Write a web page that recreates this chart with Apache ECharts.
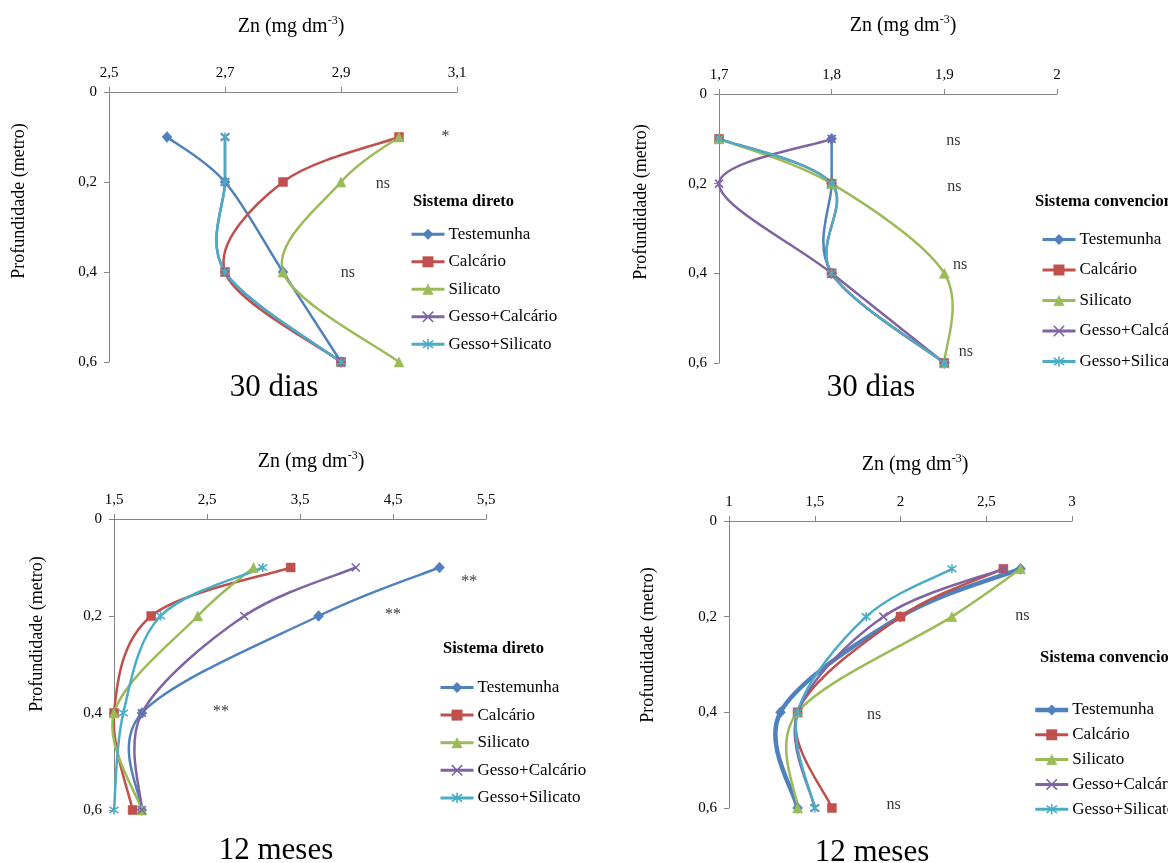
<!DOCTYPE html>
<html><head><meta charset="utf-8">
<script src="https://cdn.jsdelivr.net/npm/echarts@6/dist/echarts.min.js"></script>
<style>html,body{margin:0;padding:0;background:#fff}#c{width:1168px;height:863px}</style>
</head><body><div id="c"></div><script>
// ---------- DATA ----------
const depths = [0.1, 0.2, 0.4, 0.6];
const treatments = ['Testemunha', 'Calcário', 'Silicato', 'Gesso+Calcário', 'Gesso+Silicato'];

// 30 dias – Sistema direto
const a30Testemunha     = [2.6, 2.7, 2.8, 2.9];
const a30Calcario       = [3.0, 2.8, 2.7, 2.9];
const a30Silicato       = [3.0, 2.9, 2.8, 3.0];
const a30GessoCalcario  = [2.7, 2.7, 2.7, 2.9];
const a30GessoSilicato  = [2.7, 2.7, 2.7, 2.9];
// 30 dias – Sistema convencional
const b30Testemunha     = [1.8, 1.8, 1.8, 1.9];
const b30Calcario       = [1.7, 1.8, 1.8, 1.9];
const b30Silicato       = [1.7, 1.8, 1.9, 1.9];
const b30GessoCalcario  = [1.8, 1.7, 1.8, 1.9];
const b30GessoSilicato  = [1.7, 1.8, 1.8, 1.9];
// 12 meses – Sistema direto
const c12Testemunha     = [5.0, 3.7, 1.8, 1.8];
const c12Calcario       = [3.4, 1.9, 1.5, 1.7];
const c12Silicato       = [3.0, 2.4, 1.5, 1.8];
const c12GessoCalcario  = [4.1, 2.9, 1.8, 1.8];
const c12GessoSilicato  = [3.1, 2.0, 1.6, 1.5];
// 12 meses – Sistema convencional
const d12Testemunha     = [2.7, 2.0, 1.3, 1.4];
const d12Calcario       = [2.6, 2.0, 1.4, 1.6];
const d12Silicato       = [2.7, 2.3, 1.4, 1.4];
const d12GessoCalcario  = [2.6, 1.9, 1.4, 1.5];
const d12GessoSilicato  = [2.3, 1.8, 1.4, 1.5];

// x-axis ranges (min, max, interval)
const xMinA = 2.5, xMaxA = 3.1, xStepA = 0.2;
const xMinB = 1.7, xMaxB = 2.0, xStepB = 0.1;
const xMinC = 1.5, xMaxC = 5.5, xStepC = 1.0;
const xMinD = 1.0, xMaxD = 3.0, xStepD = 0.5;
const depthMin = 0, depthMax = 0.6, depthStep = 0.2;

// significance notes: text, Zn value, depth
const notesAText = ['*', 'ns', 'ns', 'ns'];
const notesAX = [3.08, 2.972, 2.912, 3.036];
const notesAY = [0.099, 0.203, 0.401, 0.601];
const notesBText = ['ns', 'ns', 'ns', 'ns'];
const notesBX = [1.908, 1.909, 1.914, 1.919];
const notesBY = [0.105, 0.207, 0.381, 0.575];
const notesCText = ['**', '**', '**', 'ns'];
const notesCX = [5.32, 4.5, 2.65, 2.625];
const notesCY = [0.13, 0.197, 0.397, 0.602];
const notesDText = ['ns', 'ns', 'ns', 'ns'];
const notesDX = [3.08, 2.71, 1.846, 1.96];
const notesDY = [0.101, 0.198, 0.405, 0.594];

const captions = ['30 dias', '30 dias', '12 meses', '12 meses'];
const legendTitles = ['Sistema direto', 'Sistema convencional', 'Sistema direto', 'Sistema convencional'];
const xTitle = 'Zn (mg dm';
const xTitleSup = '-3';
const yTitle = 'Profundidade (metro)';

// ---------- STYLE / LAYOUT ----------
const FONT = "'Liberation Serif','Times New Roman',serif";
const colors = ['#4F81BD', '#C0504D', '#9BBB59', '#8064A2', '#4BACC6'];
const crossPath = 'path://M0,0L10,10M10,0L0,10';
const starPath = 'path://M5,0L5,10M0,1.5L10,8.5M10,1.5L0,8.5';
const symbols = ['diamond', 'rect', 'triangle', crossPath, starPath];
const symbolSizes = [[10, 11], 9, 10, 8, 9];

const panels = [
  { grid: { left: 109, top: 92, width: 348, height: 270 }, xr: [xMinA, xMaxA, xStepA],
    data: [a30Testemunha, a30Calcario, a30Silicato, a30GessoCalcario, a30GessoSilicato],
    notes: [notesAText, notesAX, notesAY], legend: { left: 410, top: 225.8, gap: 10.5 },
    legendTitle: [413, 202], xName: [291, 26], yName: [19, 201], caption: [274, 388], thick: false },
  { grid: { left: 719, top: 94, width: 338, height: 269 }, xr: [xMinB, xMaxB, xStepB],
    data: [b30Testemunha, b30Calcario, b30Silicato, b30GessoCalcario, b30GessoSilicato],
    notes: [notesBText, notesBX, notesBY], legend: { left: 1041, top: 231, gap: 13.5 },
    legendTitle: [1035, 202], xName: [903, 25], yName: [641, 202], caption: [871, 388], thick: false },
  { grid: { left: 114, top: 519, width: 372, height: 291 }, xr: [xMinC, xMaxC, xStepC],
    data: [c12Testemunha, c12Calcario, c12Silicato, c12GessoCalcario, c12GessoSilicato],
    notes: [notesCText, notesCX, notesCY], legend: { left: 439, top: 679, gap: 10.6 },
    legendTitle: [443, 649], xName: [311, 461], yName: [37, 634], caption: [276, 851], thick: false },
  { grid: { left: 729, top: 521, width: 343, height: 287 }, xr: [xMinD, xMaxD, xStepD],
    data: [d12Testemunha, d12Calcario, d12Silicato, d12GessoCalcario, d12GessoSilicato],
    notes: [notesDText, notesDX, notesDY], legend: { left: 1033, top: 701.5, gap: 7.8 },
    legendTitle: [1040, 658], xName: [915, 464], yName: [648, 645], caption: [872, 853], thick: true }
];

function fmt(v) {
  return String(Number(v.toFixed(2))).replace('.', ',');
}

// Excel-style smoothed curve (Catmull-Rom / Bezier) through the data points,
// positioned with the axes' own scales via api.coord.
function curveSeries(k, xs, color, width) {
  return {
    type: 'custom', xAxisIndex: k, yAxisIndex: k, silent: true, animation: false, clip: false,
    data: depths.map((d, j) => [xs[j], d]), encode: { x: 0, y: 1 },
    renderItem: (params, api) => {
      if (params.dataIndex !== 0) return null;
      const pts = depths.map((d, j) => api.coord([xs[j], d]));
      const n = pts.length, children = [];
      for (let i = 0; i < n - 1; i++) {
        const p0 = pts[Math.max(i - 1, 0)], p1 = pts[i], p2 = pts[i + 1], p3 = pts[Math.min(i + 2, n - 1)];
        children.push({
          type: 'bezierCurve',
          shape: {
            x1: p1[0], y1: p1[1], x2: p2[0], y2: p2[1],
            cpx1: p1[0] + (p2[0] - p0[0]) / 6, cpy1: p1[1] + (p2[1] - p0[1]) / 6,
            cpx2: p2[0] - (p3[0] - p1[0]) / 6, cpy2: p2[1] - (p3[1] - p1[1]) / 6
          },
          style: { stroke: color, lineWidth: width, fill: null, lineCap: 'round' }
        });
      }
      return { type: 'group', children };
    }
  };
}

const grids = [], xAxes = [], yAxes = [], series = [], legends = [], graphics = [];
const axisLine = { show: true, onZero: false, lineStyle: { color: '#868686', width: 1 } };
const axisTick = { show: true, inside: false, length: 5, lineStyle: { color: '#868686' } };

panels.forEach((p, k) => {
  grids.push(Object.assign({ containLabel: false }, p.grid));
  xAxes.push({
    type: 'value', gridIndex: k, position: 'top', min: p.xr[0], max: p.xr[1], interval: p.xr[2],
    axisLine, axisTick, splitLine: { show: false },
    axisLabel: { margin: 11, color: '#000', fontSize: 15, fontFamily: FONT, formatter: fmt }
  });
  yAxes.push({
    type: 'value', gridIndex: k, inverse: true, min: depthMin, max: depthMax, interval: depthStep,
    axisLine, axisTick, splitLine: { show: false },
    axisLabel: { margin: 12, color: '#000', fontSize: 15, fontFamily: FONT, formatter: fmt }
  });
  const legendData = [];
  treatments.forEach((t, i) => {
    const nm = t + '#' + k;
    const isStroke = i >= 3;
    const lw = (p.thick && i === 0) ? 4.5 : 2.5;
    series.push(curveSeries(k, p.data[i], colors[i], lw));
    series.push({
      name: nm, type: 'line', xAxisIndex: k, yAxisIndex: k,
      data: depths.map((d, j) => [p.data[i][j], d]),
      clip: false, symbol: symbols[i], symbolSize: symbolSizes[i],
      lineStyle: { color: colors[i], width: lw, opacity: 0 },
      itemStyle: { color: colors[i], borderColor: colors[i], borderWidth: isStroke ? 1.6 : 0.5 },
      emphasis: { disabled: true }, animation: false
    });
    legendData.push({
      name: nm,
      lineStyle: { color: colors[i], width: (p.thick && i === 0) ? 4.5 : 3, opacity: 1 },
      itemStyle: { color: colors[i], borderColor: colors[i], borderWidth: isStroke ? 1.6 : 0.5 }
    });
  });
  series.push({
    type: 'scatter', xAxisIndex: k, yAxisIndex: k, silent: true, animation: false,
    symbolSize: 1, itemStyle: { color: 'rgba(0,0,0,0)' },
    data: p.notes[0].map((t, j) => ({ value: [p.notes[1][j], p.notes[2][j]], label: { formatter: t } })),
    label: { show: true, position: 'inside', color: '#000', fontSize: 16, fontFamily: FONT }
  });
  legends.push({
    data: legendData, orient: 'vertical', left: p.legend.left, top: p.legend.top, padding: 0,
    itemGap: p.legend.gap, itemWidth: 33, itemHeight: 13, selectedMode: false,
    formatter: n => n.split('#')[0],
    textStyle: { color: '#000', fontSize: 17, lineHeight: 17, fontFamily: FONT, padding: [0, 0, 0, -1] }
  });
  graphics.push({
    type: 'text', x: p.legendTitle[0], y: p.legendTitle[1], silent: true,
    style: { text: legendTitles[k], fontSize: 16.5, fontWeight: 'bold', fontFamily: FONT, fill: '#000',
      align: 'left', verticalAlign: 'middle' }
  });
  graphics.push({
    type: 'text', x: p.xName[0], y: p.xName[1], silent: true,
    style: { text: '{a|' + xTitle + '}{s|' + xTitleSup + '}{a|)}', fill: '#000', align: 'center',
      verticalAlign: 'middle',
      rich: { a: { fontSize: 20, fontFamily: FONT, lineHeight: 22, fill: '#000', verticalAlign: 'bottom' },
              s: { fontSize: 12, fontFamily: FONT, lineHeight: 22, fill: '#000', verticalAlign: 'top', padding: [0, 0, 9, 0] } } }
  });
  graphics.push({
    type: 'text', x: p.yName[0], y: p.yName[1], rotation: Math.PI / 2, silent: true,
    style: { text: yTitle, fontSize: 18, fontFamily: FONT, fill: '#000', align: 'center', verticalAlign: 'middle' }
  });
  graphics.push({
    type: 'text', x: p.caption[0], y: p.caption[1], silent: true,
    style: { text: captions[k], fontSize: 31, fontFamily: FONT, fill: '#000', align: 'center', verticalAlign: 'middle' }
  });
});

const chart = echarts.init(document.getElementById('c'), null, { renderer: 'canvas' });
chart.setOption({
  backgroundColor: '#fff', animation: false,
  grid: grids, xAxis: xAxes, yAxis: yAxes, series, legend: legends, graphic: graphics
});
</script></body></html>
